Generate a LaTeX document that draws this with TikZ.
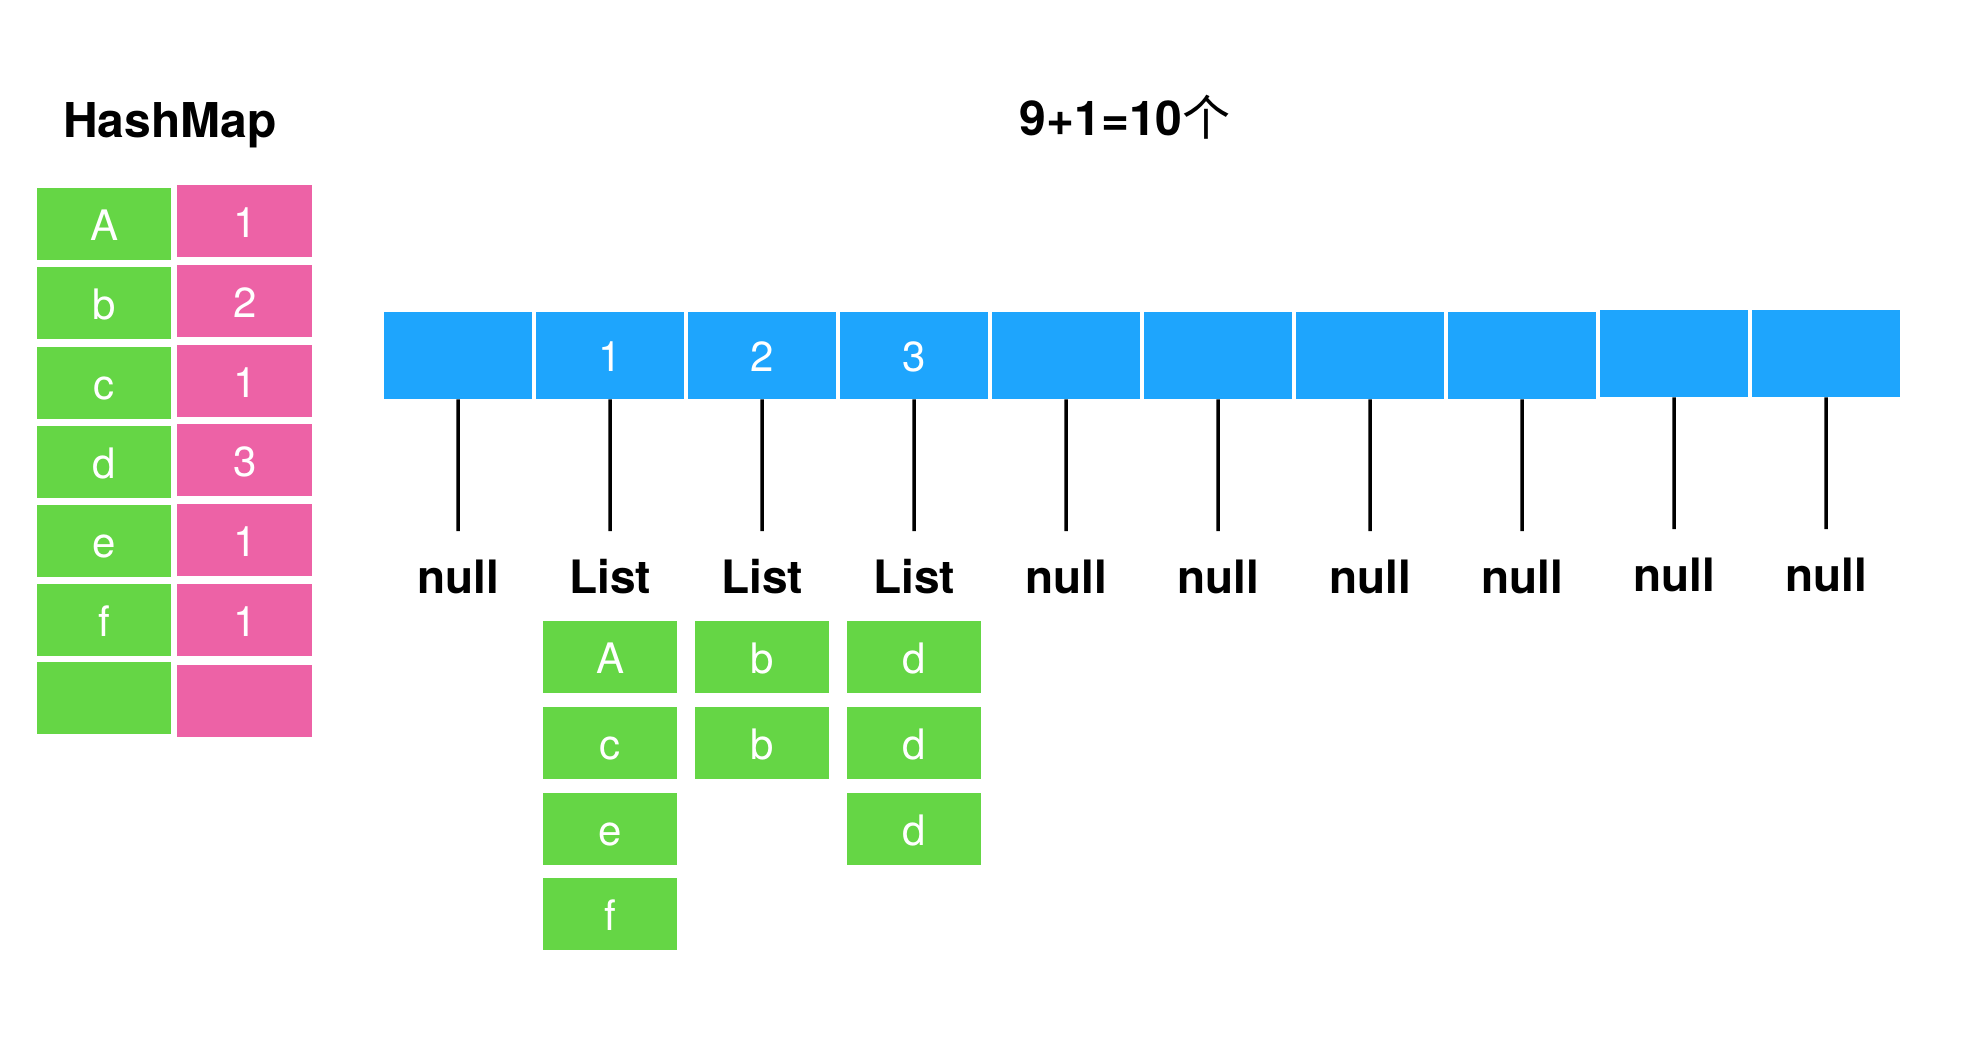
\documentclass[tikz,border=0pt]{standalone}
\usepackage{fontspec}
\setmainfont{TeX Gyre Heros}
\newfontfamily\cjkfont{Noto Sans CJK SC}
\definecolor{kgreen}{RGB}{101,214,69}
\definecolor{kpink}{RGB}{237,98,166}
\definecolor{kblue}{RGB}{30,165,253}
\begin{document}
\begin{tikzpicture}[x=1pt,y=-1pt,
  cellbase/.style={inner sep=0pt, anchor=north west, text=white,
    font=\fontsize{42}{42}\selectfont, text height=32pt, text depth=0pt},
  keycell/.style={cellbase, fill=kgreen, minimum width=134pt, minimum height=72pt},
  valcell/.style={cellbase, fill=kpink, minimum width=135pt, minimum height=72pt},
  slot/.style={cellbase, fill=kblue, minimum width=148pt, minimum height=87pt},
  heading/.style={font=\bfseries\fontsize{48}{48}\selectfont, inner sep=0pt},
  lbl/.style={font=\bfseries\fontsize{46}{46}\selectfont, inner sep=0pt, anchor=base},
  stem/.style={line width=3.5pt}]
\useasboundingbox (0,0) rectangle (1968,1044);

% headings
\node[heading, anchor=base west] (hm) at (63,137) {HashMap};
\node[heading, anchor=base] (ttl) at (1125,135) {9+1=10{\cjkfont\mdseries 个}};

% HashMap table
\foreach \t/\k/\pt/\v [count=\i] in {188/A/185/1, 267/b/265/2, 347/c/345/1, 426/d/424/3, 505/e/504/1, 584/f/584/1, 662//665/}{
  \node[keycell] (k\i) at (37,\t) {\k};
  \node[valcell] (v\i) at (177,\pt) {\v};
}

% array slots
\foreach \i/\lab/\top/\bot/\word/\base in {0//312/531/null/593, 1/1/312/531/List/593, 2/2/312/531/List/593, 3/3/312/531/List/593, 4//312/531/null/593, 5//312/531/null/593, 6//312/531/null/593, 7//312/531/null/593, 8//310/529/null/591, 9//310/529/null/591}{
  \pgfmathsetmacro{\lx}{384+152*\i}
  \pgfmathsetmacro{\cx}{\lx+74}
  \node[slot] (s\i) at (\lx,\top) {\lab};
  \coordinate (e\i) at (\cx,\bot);
  \draw[stem] (s\i.south) -- (e\i);
  \node[lbl] (n\i) at (\cx,\base) {\word};
}

% lists
\foreach \t/\k [count=\j] in {621/A, 707/c, 793/e, 878/f}{
  \node[keycell] (la\j) at (543,\t) {\k};
}
\foreach \t/\k [count=\j] in {621/b, 707/b}{
  \node[keycell] (lb\j) at (695,\t) {\k};
}
\foreach \t/\k [count=\j] in {621/d, 707/d, 793/d}{
  \node[keycell] (lc\j) at (847,\t) {\k};
}
\end{tikzpicture}
\end{document}
